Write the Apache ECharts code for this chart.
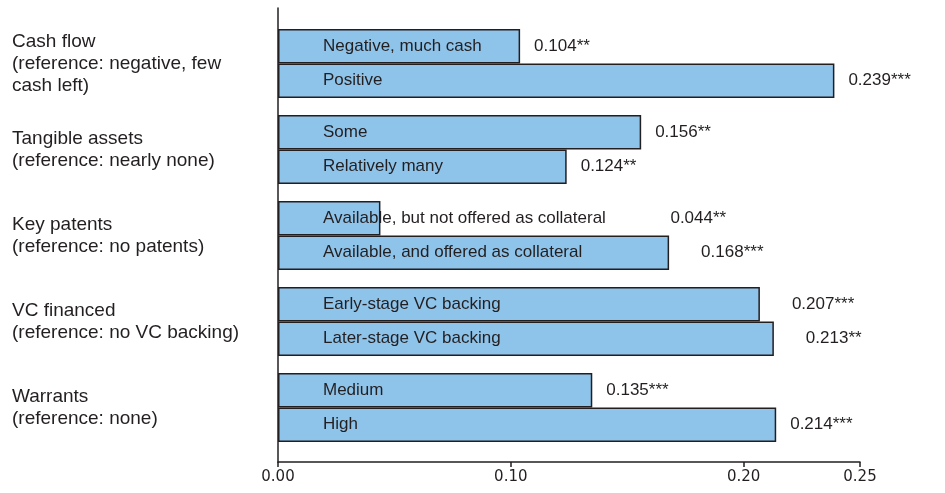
<!DOCTYPE html>
<html>
<head>
<meta charset="utf-8">
<title>Effects on loan terms</title>
<script src="https://cdn.jsdelivr.net/npm/echarts@6/dist/echarts.min.js"></script>
<style>
  html, body { margin: 0; padding: 0; background: #ffffff; }
  #chart { width: 945px; height: 493px; }
</style>
</head>
<body>
<div id="chart"></div>
<script>
// Characteristic groups (each with two levels compared against a reference)
const groups = [
  'Cash flow\n(reference: negative, few\ncash left)',
  'Tangible assets\n(reference: nearly none)',
  'Key patents\n(reference: no patents)',
  'VC financed\n(reference: no VC backing)',
  'Warrants\n(reference: none)'
];

// Upper bar of each group
const firstLevels = ['Negative, much cash', 'Some', 'Available, but not offered as collateral', 'Early-stage VC backing', 'Medium'];
const firstValues = [0.104, 0.156, 0.044, 0.207, 0.135];
const firstStars = ['**', '**', '**', '***', '***'];

// Lower bar of each group
const secondLevels = ['Positive', 'Relatively many', 'Available, and offered as collateral', 'Later-stage VC backing', 'High'];
const secondValues = [0.239, 0.124, 0.168, 0.213, 0.214];
const secondStars = ['***', '**', '***', '**', '***'];

// Axis ticks
const tickValues = [0, 0.10, 0.20, 0.25];

// Gap between a bar's end and its coefficient label
const firstLabelGap = [14, 14, 290, 32, 14];
const secondLabelGap = [14, 14, 32, 32, 14];

const ink = '#231f20';
const barFill = '#8ec3ea';
const textFont = 'Liberation Sans, Arial, sans-serif';

const chart = echarts.init(document.getElementById('chart'), null, { renderer: 'canvas' });

function barSeries(stack, values, levels) {
  return {
    type: 'bar',
    stack: stack,
    xAxisIndex: 0,
    yAxisIndex: 0,
    barGap: 0,
    barCategoryGap: '20%',
    data: values,
    itemStyle: { color: barFill, borderColor: ink, borderWidth: 1.5 },
    label: {
      show: true,
      position: 'insideLeft',
      distance: 45,
      color: ink,
      fontFamily: textFont,
      fontSize: 17,
      formatter: p => levels[p.dataIndex]
    },
    emphasis: { disabled: true },
    silent: true,
    animation: false
  };
}

// Zero-length segment stacked on each bar that carries the coefficient label
function valueTagSeries(stack, values, stars, gaps) {
  return {
    type: 'bar',
    stack: stack,
    xAxisIndex: 0,
    yAxisIndex: 0,
    barGap: 0,
    barCategoryGap: '20%',
    z: 3,
    data: values.map((v, i) => ({ value: 0, label: { distance: gaps[i] } })),
    itemStyle: { color: 'rgba(0,0,0,0)', borderWidth: 0 },
    label: {
      show: true,
      position: 'right',
      color: ink,
      fontFamily: textFont,
      fontSize: 17,
      formatter: p => values[p.dataIndex].toFixed(3) + stars[p.dataIndex]
    },
    emphasis: { disabled: true },
    silent: true,
    animation: false
  };
}

chart.setOption({
  animation: false,
  backgroundColor: '#ffffff',
  grid: [
    // bar area
    { left: 278, right: 85, top: 20.5, bottom: 42.5, containLabel: false },
    // axis frame
    { left: 278, right: 85, top: 8, bottom: 31, containLabel: false }
  ],
  xAxis: [
    { gridIndex: 0, type: 'value', min: 0, max: 0.25, show: false },
    {
      gridIndex: 1, type: 'value', min: 0, max: 0.25,
      axisLine: { show: true, lineStyle: { color: ink, width: 1.5 } },
      axisTick: { show: true, length: 5, lineStyle: { color: ink, width: 1.5 }, customValues: tickValues },
      axisLabel: {
        show: true, color: ink, fontFamily: 'DejaVu Sans, Verdana, sans-serif', fontSize: 15, margin: 8,
        customValues: tickValues,
        formatter: v => v.toFixed(2)
      },
      splitLine: { show: false }
    }
  ],
  yAxis: [
    {
      gridIndex: 0, type: 'category', inverse: true, data: groups,
      axisLine: { show: false }, axisTick: { show: false }, splitLine: { show: false },
      axisLabel: {
        show: true, align: 'left', margin: 266, color: ink,
        fontFamily: textFont, fontSize: 19, lineHeight: 22
      }
    },
    {
      gridIndex: 1, type: 'value', min: 0, max: 1,
      axisLine: { show: true, lineStyle: { color: ink, width: 1.5 } },
      axisTick: { show: false }, axisLabel: { show: false }, splitLine: { show: false }
    }
  ],
  series: [
    barSeries('upper', firstValues, firstLevels),
    valueTagSeries('upper', firstValues, firstStars, firstLabelGap),
    barSeries('lower', secondValues, secondLevels),
    valueTagSeries('lower', secondValues, secondStars, secondLabelGap)
  ]
});
</script>
</body>
</html>
